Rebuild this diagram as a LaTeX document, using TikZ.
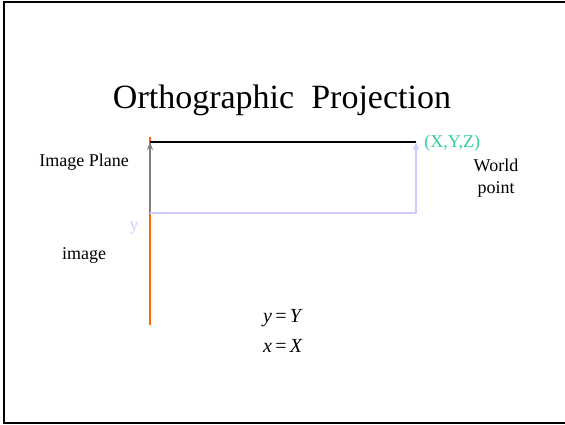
\documentclass[tikz,border=0pt]{standalone}
\usepackage{fontspec}
\setmainfont{Liberation Serif}
\usepackage{xcolor}
\usepackage{tikz}
\usetikzlibrary{arrows.meta,positioning}
\definecolor{RayOrange}{RGB}{255,102,0}
\definecolor{RayLavender}{RGB}{204,204,255}
\definecolor{AxisGrey}{RGB}{128,128,128}
\definecolor{PointTeal}{RGB}{51,204,153}

\begin{document}
\begin{tikzpicture}[x=0.5pt, y=-0.5pt]
    \useasboundingbox (0,0) rectangle (565,424);
    % Slide frame (open on the right)
    \draw[line width=1pt] (564.5,1.5) -- (4,1.5) -- (4,422.5) -- (564.5,422.5);

    % Title
    \node[inner sep=0pt] (title) at (282,100) {\fontsize{17}{20}\selectfont Orthographic\ \ Projection};

    % Anchor points of the construction
    \coordinate (planeTip) at (150,137);
    \coordinate (planeTop) at (150,142);
    \coordinate (planeMid) at (150,213);
    \coordinate (planeBot) at (150,325);
    \coordinate (worldPt) at (416,142);
    \coordinate (worldBase) at (416,213);

    % Image plane and projection rays
    \draw[line width=1pt, color=RayOrange] (planeTip) -- (planeBot);
    \draw[line width=1pt, color=black] (planeTop) -- (worldPt);
    \draw[line width=0.8pt, color=AxisGrey, -{Stealth[length=4pt,width=3pt]}] (planeMid) -- (planeTop);
    \draw[line width=0.8pt, color=RayLavender, -{Stealth[length=4pt,width=3pt]}] (planeMid) -- (worldBase) -- (worldPt);

    % Labels
    \node[inner sep=0pt, anchor=west, font=\fontsize{9}{11}\selectfont, text=PointTeal] (xyz) at (424,143) {(X,Y,Z)};
    \node[inner sep=0pt, align=center, font=\fontsize{9}{11}\selectfont] (world) at (496,178) {World\\[0pt]point};
    \node[inner sep=0pt, font=\fontsize{9}{11}\selectfont] (planeLbl) at (84,162) {Image Plane};
    \node[inner sep=0pt, font=\fontsize{9}{11}\selectfont, text=RayLavender] (yLbl) at (134,228) {y};
    \node[inner sep=0pt, font=\fontsize{9}{11}\selectfont] (imageLbl) at (84,255) {image};
    \node[inner sep=0pt, font=\fontsize{10}{12}\selectfont] (eqY) at (283,318) {\textit{y}\,=\,\textit{Y}};
    \node[inner sep=0pt, font=\fontsize{10}{12}\selectfont] (eqX) at (283,346) {\textit{x}\,=\,\textit{X}};
\end{tikzpicture}
\end{document}
